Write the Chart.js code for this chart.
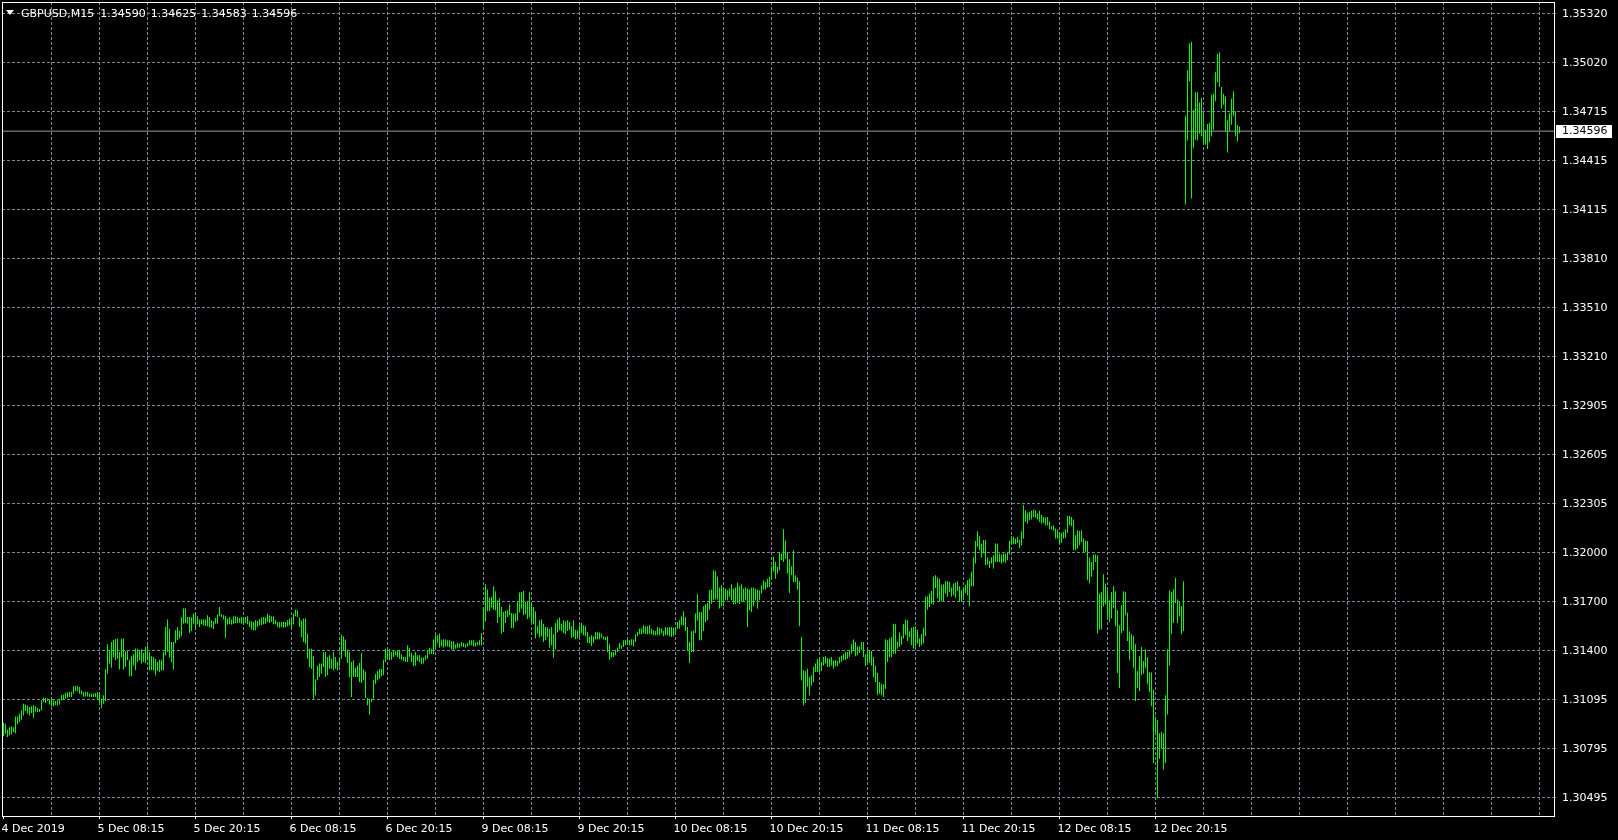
<!DOCTYPE html>
<html>
<head>
<meta charset="utf-8">
<script src="https://cdn.jsdelivr.net/npm/chart.js@4.4.1/dist/chart.umd.min.js"></script>
<style>
html,body{margin:0;padding:0;background:#000;overflow:hidden;}
#wrap{position:relative;width:1618px;height:840px;background:#000;}
#c{display:block;}
#title{position:absolute;left:6px;top:7px;color:#fff;font:11px "DejaVu Sans";line-height:13px;white-space:pre;}
#tri{display:inline-block;width:0;height:0;border-left:4.5px solid transparent;border-right:4.5px solid transparent;border-top:5px solid #fff;vertical-align:2px;margin-right:7px;}
#tprices{margin-left:6px;word-spacing:1.5px;}
</style>
</head>
<body>
<div id="wrap">
<canvas id="c" width="1618" height="840"></canvas>
<div id="title"><span id="tri"></span><span id="tsym"></span><span id="tprices"></span></div>
</div>
<script>
// ---- chart data ----
const symbol = "GBPUSD";
const period = "M15";
const lastBar = [1.34590, 1.34625, 1.34583, 1.34596]; // open, high, low, close

const xTickLabels = ["4 Dec 2019","5 Dec 08:15","5 Dec 20:15","6 Dec 08:15","6 Dec 20:15","9 Dec 08:15","9 Dec 20:15","10 Dec 08:15","10 Dec 20:15","11 Dec 08:15","11 Dec 20:15","12 Dec 08:15","12 Dec 20:15"];

const yTickLabels = ["1.30495","1.30795","1.31095","1.31400","1.31700","1.32000","1.32305","1.32605","1.32905","1.33210","1.33510","1.33810","1.34115","1.34415","1.34715","1.35020","1.35320"];

// M15 bar highs (bar 0 = 4 Dec 20:15)
const highs = [
1.30955,1.30949,1.30914,1.30928,1.30933,1.30928,1.30994,1.30994,1.31011,1.31031,
1.31072,1.31068,1.31062,1.31052,1.31056,1.31062,1.31056,1.31046,1.31041,1.31093,
1.31109,1.31109,1.31103,1.31097,1.31109,1.31093,1.31089,1.31093,1.31103,1.31124,
1.31128,1.31138,1.31142,1.31144,1.31144,1.31179,1.31183,1.31179,1.31175,1.31154,
1.31144,1.31144,1.31144,1.31134,1.31134,1.31134,1.31138,1.31142,1.31142,1.31103,
1.31124,1.31284,1.31438,1.31401,1.31452,1.31462,1.31471,1.31473,1.31390,1.31473,
1.31473,1.31395,1.31397,1.31339,1.31364,1.31376,1.31411,1.31411,1.31405,1.31407,
1.31384,1.31421,1.31432,1.31390,1.31364,1.31360,1.31349,1.31329,1.31343,1.31343,
1.31390,1.31545,1.31590,1.31534,1.31452,1.31452,1.31524,1.31545,1.31520,1.31606,
1.31658,1.31658,1.31606,1.31606,1.31602,1.31627,1.31627,1.31610,1.31590,1.31592,
1.31590,1.31590,1.31616,1.31606,1.31586,1.31580,1.31600,1.31621,1.31668,1.31623,
1.31616,1.31614,1.31596,1.31606,1.31590,1.31610,1.31610,1.31606,1.31600,1.31604,
1.31602,1.31606,1.31610,1.31582,1.31580,1.31575,1.31586,1.31580,1.31592,1.31602,
1.31606,1.31602,1.31627,1.31616,1.31610,1.31610,1.31586,1.31575,1.31575,1.31575,
1.31575,1.31575,1.31586,1.31596,1.31586,1.31627,1.31651,1.31647,1.31602,1.31586,
1.31596,1.31596,1.31504,1.31411,1.31411,1.31364,1.31222,1.31308,1.31319,1.31319,
1.31390,1.31390,1.31360,1.31370,1.31349,1.31390,1.31360,1.31329,1.31349,1.31497,
1.31487,1.31467,1.31405,1.31390,1.31329,1.31339,1.31294,1.31308,1.31323,1.31384,
1.31282,1.31271,1.31107,1.31103,1.31103,1.31216,1.31257,1.31273,1.31286,1.31286,
1.31343,1.31411,1.31405,1.31411,1.31390,1.31401,1.31395,1.31401,1.31405,1.31376,
1.31360,1.31360,1.31432,1.31417,1.31384,1.31370,1.31391,1.31370,1.31370,1.31356,
1.31356,1.31370,1.31401,1.31417,1.31411,1.31467,1.31493,1.31493,1.31504,1.31462,
1.31469,1.31467,1.31462,1.31462,1.31456,1.31456,1.31436,1.31448,1.31442,1.31452,
1.31446,1.31438,1.31446,1.31462,1.31462,1.31462,1.31448,1.31452,1.31462,1.31508,
1.31668,1.31808,1.31775,1.31725,1.31730,1.31795,1.31764,1.31709,1.31721,1.31668,
1.31637,1.31643,1.31647,1.31682,1.31631,1.31627,1.31627,1.31699,1.31756,1.31760,
1.31766,1.31699,1.31705,1.31758,1.31695,1.31668,1.31641,1.31549,1.31586,1.31590,
1.31565,1.31545,1.31543,1.31534,1.31545,1.31499,1.31569,1.31590,1.31602,1.31565,
1.31586,1.31580,1.31586,1.31575,1.31551,1.31586,1.31528,1.31524,1.31555,1.31569,
1.31555,1.31551,1.31514,1.31483,1.31493,1.31487,1.31514,1.31512,1.31510,1.31504,
1.31487,1.31483,1.31487,1.31438,1.31391,1.31391,1.31405,1.31417,1.31446,1.31432,
1.31462,1.31462,1.31469,1.31462,1.31469,1.31467,1.31499,1.31514,1.31534,1.31534,
1.31555,1.31549,1.31549,1.31555,1.31534,1.31524,1.31520,1.31545,1.31538,1.31534,
1.31520,1.31545,1.31540,1.31545,1.31545,1.31540,1.31545,1.31575,1.31586,1.31610,
1.31641,1.31606,1.31545,1.31452,1.31518,1.31524,1.31627,1.31746,1.31637,1.31637,
1.31672,1.31684,1.31692,1.31771,1.31775,1.31894,1.31888,1.31853,1.31787,1.31801,
1.31781,1.31781,1.31771,1.31781,1.31808,1.31781,1.31787,1.31816,1.31795,1.31808,
1.31781,1.31787,1.31781,1.31775,1.31787,1.31787,1.31781,1.31775,1.31771,1.31801,
1.31832,1.31822,1.31842,1.31853,1.31918,1.31976,1.31945,1.31914,1.32001,1.31997,
1.32146,1.32075,1.32001,1.31962,1.31918,1.32017,1.31863,1.31849,1.31826,1.31483,
1.31278,1.31273,1.31288,1.31237,1.31247,1.31298,1.31319,1.31347,1.31360,1.31329,
1.31360,1.31364,1.31352,1.31352,1.31360,1.31339,1.31339,1.31335,1.31360,1.31368,
1.31376,1.31391,1.31391,1.31401,1.31438,1.31467,1.31452,1.31425,1.31425,1.31452,
1.31452,1.31376,1.31401,1.31401,1.31397,1.31360,1.31308,1.31263,1.31206,1.31195,
1.31191,1.31469,1.31462,1.31473,1.31483,1.31565,1.31561,1.31452,1.31510,1.31489,
1.31561,1.31590,1.31586,1.31518,1.31540,1.31545,1.31549,1.31528,1.31473,1.31499,
1.31540,1.31730,1.31734,1.31750,1.31766,1.31853,1.31863,1.31849,1.31842,1.31805,
1.31808,1.31826,1.31828,1.31822,1.31787,1.31812,1.31818,1.31826,1.31795,1.31771,
1.31787,1.31805,1.31832,1.31842,1.31884,1.31972,1.32073,1.32134,1.32103,1.32058,
1.32079,1.32079,1.31972,1.31951,1.31972,1.31986,1.32058,1.32058,1.31997,1.31990,
1.31997,1.31997,1.32007,1.32073,1.32103,1.32099,1.32089,1.32099,1.32079,1.32134,
1.32294,1.32263,1.32247,1.32253,1.32259,1.32268,1.32263,1.32243,1.32259,1.32233,
1.32222,1.32218,1.32222,1.32192,1.32165,1.32171,1.32151,1.32144,1.32124,1.32124,
1.32130,1.32144,1.32227,1.32227,1.32222,1.32206,1.32109,1.32140,1.32136,1.32140,
1.32089,1.32075,1.32073,1.31972,1.31945,1.31992,1.31990,1.31986,1.31750,1.31760,
1.31869,1.31812,1.31770,1.31709,1.31760,1.31795,1.31764,1.31647,1.31555,1.31678,
1.31764,1.31758,1.31633,1.31518,1.31499,1.31487,1.31438,1.31273,1.31364,1.31421,
1.31335,1.31407,1.31360,1.31265,1.31265,1.31158,1.30994,1.30970,1.30891,1.30898,
1.30891,1.31124,1.31407,1.31771,1.31760,1.31777,1.31847,1.31713,1.31699,1.31672,
1.31826,1.34691,1.34969,1.35135,1.35145,1.34728,1.34835,1.34835,1.34773,1.34800,
1.34718,1.34605,1.34640,1.34646,1.34821,1.34827,1.34958,1.35073,1.35082,1.34868,
1.34825,1.34811,1.34663,1.34708,1.34796,1.34841,1.34718,1.34636,1.34625
];

// M15 bar lows
const lows = [
1.30873,1.30887,1.30867,1.30877,1.30883,1.30898,1.30891,1.30945,1.30959,1.30974,
1.31000,1.31027,1.31011,1.31000,1.31015,1.30984,1.31025,1.31021,1.31021,1.31031,
1.31082,1.31076,1.31089,1.31068,1.31056,1.31056,1.31062,1.31062,1.31068,1.31093,
1.31097,1.31103,1.31109,1.31113,1.31113,1.31134,1.31150,1.31148,1.31134,1.31130,
1.31117,1.31117,1.31117,1.31113,1.31113,1.31113,1.31113,1.31097,1.31082,1.31046,
1.31072,1.31089,1.31257,1.31319,1.31294,1.31360,1.31339,1.31349,1.31282,1.31360,
1.31282,1.31298,1.31339,1.31241,1.31241,1.31308,1.31278,1.31329,1.31339,1.31319,
1.31329,1.31323,1.31339,1.31278,1.31278,1.31278,1.31247,1.31273,1.31267,1.31278,
1.31278,1.31370,1.31390,1.31356,1.31329,1.31282,1.31446,1.31462,1.31473,1.31487,
1.31565,1.31569,1.31565,1.31508,1.31520,1.31565,1.31528,1.31561,1.31545,1.31561,
1.31555,1.31551,1.31549,1.31545,1.31540,1.31530,1.31565,1.31565,1.31610,1.31606,
1.31590,1.31477,1.31559,1.31561,1.31559,1.31565,1.31569,1.31569,1.31571,1.31565,
1.31561,1.31569,1.31561,1.31545,1.31528,1.31524,1.31524,1.31545,1.31555,1.31555,
1.31561,1.31565,1.31575,1.31569,1.31577,1.31561,1.31561,1.31545,1.31540,1.31545,
1.31540,1.31545,1.31549,1.31555,1.31534,1.31561,1.31610,1.31606,1.31545,1.31483,
1.31452,1.31442,1.31349,1.31298,1.31288,1.31103,1.31124,1.31216,1.31237,1.31257,
1.31298,1.31237,1.31247,1.31288,1.31288,1.31278,1.31288,1.31278,1.31302,1.31349,
1.31401,1.31360,1.31323,1.31237,1.31113,1.31237,1.31237,1.31237,1.31206,1.31200,
1.31216,1.31107,1.31062,1.31004,1.31082,1.31103,1.31195,1.31216,1.31226,1.31241,
1.31247,1.31329,1.31349,1.31339,1.31343,1.31360,1.31370,1.31360,1.31349,1.31343,
1.31335,1.31329,1.31329,1.31360,1.31329,1.31302,1.31308,1.31335,1.31329,1.31315,
1.31319,1.31339,1.31349,1.31376,1.31380,1.31376,1.31421,1.31446,1.31417,1.31425,
1.31417,1.31425,1.31425,1.31421,1.31405,1.31405,1.31411,1.31417,1.31417,1.31425,
1.31421,1.31417,1.31425,1.31432,1.31432,1.31425,1.31425,1.31432,1.31432,1.31432,
1.31524,1.31580,1.31641,1.31643,1.31664,1.31651,1.31647,1.31569,1.31606,1.31504,
1.31514,1.31569,1.31606,1.31616,1.31538,1.31538,1.31575,1.31582,1.31633,1.31658,
1.31616,1.31623,1.31594,1.31606,1.31571,1.31561,1.31473,1.31504,1.31479,1.31487,
1.31452,1.31462,1.31483,1.31417,1.31432,1.31354,1.31407,1.31510,1.31524,1.31520,
1.31508,1.31499,1.31520,1.31528,1.31477,1.31483,1.31469,1.31473,1.31483,1.31508,
1.31493,1.31487,1.31446,1.31442,1.31428,1.31446,1.31467,1.31467,1.31469,1.31479,
1.31467,1.31462,1.31391,1.31343,1.31356,1.31360,1.31370,1.31391,1.31411,1.31411,
1.31421,1.31432,1.31438,1.31432,1.31432,1.31425,1.31452,1.31487,1.31499,1.31499,
1.31504,1.31499,1.31499,1.31499,1.31499,1.31493,1.31493,1.31493,1.31493,1.31504,
1.31487,1.31493,1.31493,1.31487,1.31483,1.31487,1.31504,1.31534,1.31534,1.31555,
1.31555,1.31520,1.31401,1.31323,1.31391,1.31391,1.31508,1.31582,1.31462,1.31462,
1.31520,1.31575,1.31586,1.31651,1.31688,1.31709,1.31713,1.31713,1.31658,1.31672,
1.31672,1.31709,1.31709,1.31730,1.31709,1.31684,1.31684,1.31692,1.31684,1.31699,
1.31699,1.31709,1.31545,1.31647,1.31637,1.31672,1.31709,1.31658,1.31709,1.31750,
1.31775,1.31775,1.31787,1.31791,1.31836,1.31888,1.31842,1.31873,1.31894,1.31955,
1.31945,1.31966,1.31873,1.31754,1.31863,1.31822,1.31822,1.31775,1.31549,1.31216,
1.31062,1.31076,1.31175,1.31124,1.31185,1.31206,1.31267,1.31267,1.31267,1.31273,
1.31308,1.31319,1.31298,1.31298,1.31308,1.31288,1.31302,1.31302,1.31319,1.31329,
1.31339,1.31343,1.31349,1.31360,1.31380,1.31401,1.31364,1.31370,1.31384,1.31405,
1.31360,1.31304,1.31329,1.31323,1.31308,1.31237,1.31206,1.31124,1.31134,1.31124,
1.31113,1.31165,1.31329,1.31360,1.31356,1.31380,1.31380,1.31411,1.31421,1.31436,
1.31473,1.31493,1.31458,1.31483,1.31432,1.31411,1.31425,1.31442,1.31421,1.31432,
1.31442,1.31489,1.31651,1.31668,1.31688,1.31682,1.31785,1.31719,1.31699,1.31703,
1.31705,1.31750,1.31730,1.31760,1.31730,1.31740,1.31725,1.31766,1.31699,1.31699,
1.31713,1.31754,1.31740,1.31672,1.31795,1.31795,1.31935,1.32038,1.32017,1.31972,
1.31997,1.31925,1.31929,1.31908,1.31935,1.31904,1.31945,1.31945,1.31945,1.31935,
1.31945,1.31939,1.31955,1.31992,1.32058,1.32054,1.32054,1.32062,1.32031,1.32048,
1.32089,1.32192,1.32181,1.32202,1.32206,1.32222,1.32216,1.32206,1.32192,1.32181,
1.32185,1.32171,1.32171,1.32144,1.32144,1.32136,1.32089,1.32089,1.32054,1.32062,
1.32089,1.32093,1.32124,1.32171,1.32165,1.32017,1.32017,1.32027,1.32048,1.32068,
1.32007,1.32007,1.31832,1.31812,1.31853,1.31894,1.31945,1.31504,1.31528,1.31530,
1.31672,1.31684,1.31606,1.31575,1.31596,1.31658,1.31549,1.31261,1.31169,1.31508,
1.31520,1.31616,1.31458,1.31339,1.31405,1.31294,1.31089,1.31169,1.31150,1.31247,
1.31257,1.31294,1.31195,1.31144,1.31056,1.30707,1.30898,1.30493,1.30733,1.30795,
1.30666,1.30707,1.31006,1.31308,1.31499,1.31569,1.31692,1.31569,1.31610,1.31499,
1.31520,1.34145,1.34539,1.34903,1.34182,1.34490,1.34543,1.34539,1.34580,1.34564,
1.34519,1.34513,1.34486,1.34527,1.34564,1.34605,1.34780,1.34897,1.34868,1.34735,
1.34759,1.34591,1.34465,1.34595,1.34636,1.34691,1.34564,1.34533,1.34583
];

// ---- page text ----
document.getElementById('tsym').textContent = symbol + ',' + period;
document.getElementById('tprices').textContent = lastBar.map(v => v.toFixed(5)).join(' ');

// ---- chart ----
const FONT = {family: '"DejaVu Sans"', size: 11};
const yFirst = parseFloat(yTickLabels[0]);
const yLast = parseFloat(yTickLabels[yTickLabels.length - 1]);
const yStep = (yLast - yFirst) / (yTickLabels.length - 1);
const xLabelEvery = 48, xGridEvery = 24, xGridLast = 768;

const barData = highs.map((h, i) => ({x: i, y: [lows[i], h]}));
const bidLine = [{x: -0.75, y: lastBar[3]}, {x: 775.25, y: lastBar[3]}];

const isLabelTick = v => v % xLabelEvery === 0 && v / xLabelEvery < xTickLabels.length;

const decor = {
  id: 'decor',
  afterDraw(chart) {
    const {ctx, chartArea: a, scales} = chart;
    ctx.save();
    ctx.strokeStyle = '#ffffff';
    ctx.lineWidth = 1;
    ctx.strokeRect(a.left + 0.5, a.top + 0.5, a.right - a.left, a.bottom - a.top);
    const y = Math.round(scales.y.getPixelForValue(lastBar[3]));
    ctx.fillStyle = '#ffffff';
    ctx.fillRect(a.right + 2, y - 6, 56, 13);
    ctx.fillStyle = '#000000';
    ctx.font = '11px "DejaVu Sans"';
    ctx.textBaseline = 'middle';
    ctx.textAlign = 'left';
    ctx.fillText(lastBar[3].toFixed(5), a.right + 8, y + 0.5);
    ctx.restore();
  }
};

new Chart(document.getElementById('c'), {
  type: 'bar',
  data: {
    datasets: [
      {type: 'line', data: bidLine, borderColor: '#9a9a9a', borderWidth: 1, pointRadius: 0, order: 0, tension: 0},
      {type: 'bar', data: barData, backgroundColor: '#00ff00', borderWidth: 0, barThickness: 1, inflateAmount: 0, order: 1}
    ]
  },
  options: {
    responsive: false,
    animation: false,
    devicePixelRatio: 1,
    layout: {padding: {left: 2, top: 2, right: 0, bottom: 0}},
    plugins: {legend: {display: false}, tooltip: {enabled: false}},
    scales: {
      x: {
        type: 'linear', position: 'bottom', min: -0.75, max: 775.25, offset: false,
        afterBuildTicks: s => { const t = []; for (let v = 0; v <= xGridLast; v += xGridEvery) t.push({value: v}); s.ticks = t; },
        afterFit: s => { s.height = 24; s.paddingLeft = 0; s.paddingRight = 0; s.paddingTop = 0; s.paddingBottom = 0; },
        grid: {
          offset: false,
          color: c => (c.tick && c.tick.value > 0) ? '#778899' : 'rgba(0,0,0,0)',
          lineWidth: 1, drawTicks: true, tickLength: 3,
          tickColor: c => (c.tick && isLabelTick(c.tick.value)) ? '#ffffff' : 'rgba(0,0,0,0)'
        },
        border: {display: true, color: '#ffffff', width: 1, dash: [3, 2]},
        ticks: {
          autoSkip: false, maxRotation: 0, minRotation: 0, align: 'start', padding: 4, labelOffset: -2,
          color: '#ffffff', font: FONT,
          callback: v => isLabelTick(v) ? xTickLabels[v / xLabelEvery] : ''
        }
      },
      y: {
        type: 'linear', position: 'right', min: 1.303811, max: 1.353908, beginAtZero: false,
        afterBuildTicks: s => { s.ticks = yTickLabels.map((l, k) => ({value: yFirst + k * yStep})); },
        afterFit: s => { s.width = 64; s.paddingLeft = 0; s.paddingRight = 0; s.paddingTop = 0; s.paddingBottom = 0; },
        grid: {color: '#778899', lineWidth: 1, drawTicks: true, tickLength: 2, tickColor: '#778899'},
        border: {display: true, color: '#ffffff', width: 1, dash: [3, 2]},
        ticks: {padding: 6, labelOffset: 1, color: '#ffffff', font: FONT, callback: (v, i) => yTickLabels[i]}
      }
    }
  },
  plugins: [decor]
});
</script>
</body>
</html>
